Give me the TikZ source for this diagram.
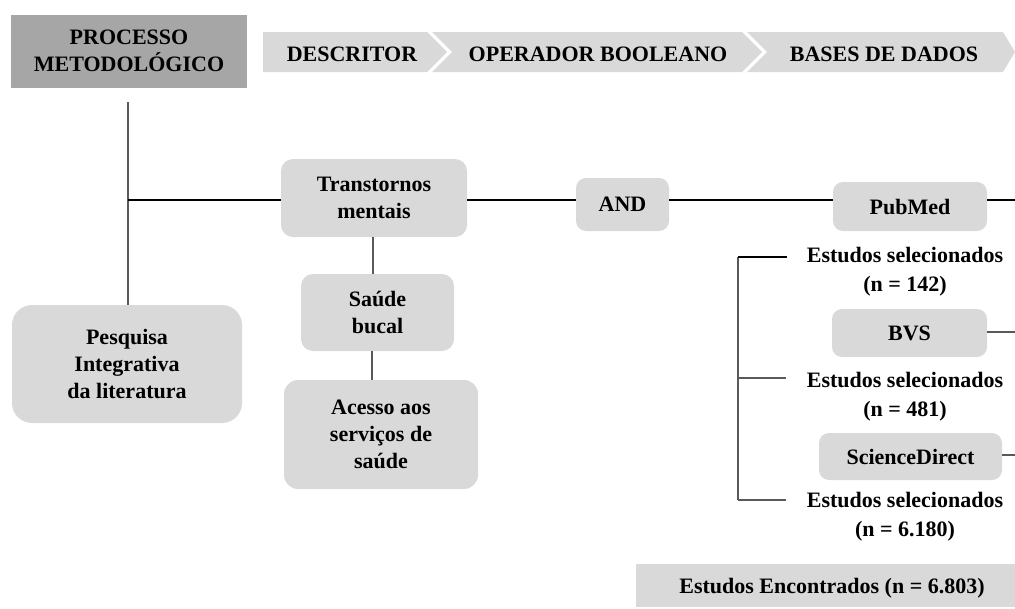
\documentclass[tikz,border=0pt]{standalone}
\usepackage{fontspec}
\setmainfont{Liberation Serif}
\begin{document}
\begin{tikzpicture}[x=1pt,y=-1pt,
  every node/.style={font=\fontsize{22}{27}\selectfont\bfseries, align=center, inner sep=0pt},
  darkbox/.style={fill=boxdark, draw=none},
  lightbox/.style={fill=boxlight, draw=none, rounded corners=12pt},
  chev/.style={fill=boxlight, draw=none},
  thick line/.style={line width=2.2pt, black},
  thin line/.style={line width=1.1pt, linegray},
  txt/.style={font=\fontsize{22}{29}\selectfont\bfseries}
]
\definecolor{boxdark}{HTML}{A6A6A6}
\definecolor{boxlight}{HTML}{D9D9D9}
\definecolor{linegray}{HTML}{595959}
\useasboundingbox (0,0) rectangle (1015,608);

% header
\fill[boxdark] (11,15) rectangle (247,88);
\node (proc) at (129,51) {PROCESSO\\METODOLÓGICO};
\fill[chev] (263,32) -- (427,32) -- (447,52) -- (427,72) -- (263,72) -- cycle;
\fill[chev] (432,32) -- (742,32) -- (762,52) -- (742,72) -- (432,72) -- (452,52) -- cycle;
\fill[chev] (747,32) -- (1003,32) -- (1015,52) -- (1003,72) -- (747,72) -- (767,52) -- cycle;
\node (desc) at (352,54) {DESCRITOR};
\node (oper) at (598,54) {OPERADOR BOOLEANO};
\node (bases) at (884,54) {BASES DE DADOS};

% boxes
\fill[boxlight, rounded corners=20pt] (12,305) rectangle (242,423);
\node (pesq) at (127,364) {Pesquisa\\Integrativa\\da literatura};
\fill[boxlight, rounded corners=12pt] (281,159) rectangle (467,237);
\node (trans) at (374,198) {Transtornos\\mentais};
\fill[boxlight, rounded corners=12pt] (301,274) rectangle (454,351);
\node (saude) at (377.5,312.5) {Saúde\\bucal};
\fill[boxlight, rounded corners=14pt] (284,380) rectangle (478,489);
\node (acesso) at (381,434.5) {Acesso aos\\serviços de\\saúde};
\fill[boxlight, rounded corners=10pt] (576,178) rectangle (669,231);
\node (and) at (622.5,204.5) {AND};
\fill[boxlight, rounded corners=10pt] (833,182) rectangle (987,231);
\node (pub) at (910,206.5) {PubMed};
\fill[boxlight, rounded corners=10pt] (832,309) rectangle (987,357);
\node (bvs) at (909.5,333) {BVS};
\fill[boxlight, rounded corners=10pt] (819,433) rectangle (1002,480);
\node (sd) at (910.5,456.5) {ScienceDirect};
\node[txt] (e1) at (905,272) {Estudos selecionados\\(n = 142)};
\node[txt] (e2) at (905,397) {Estudos selecionados\\(n = 481)};
\node[txt] (e3) at (905,517) {Estudos selecionados\\(n = 6.180)};
\fill[boxlight] (636,564) rectangle (1015,607);
\node (found) at (832,588) {Estudos Encontrados (n = 6.803)};

% connector anchors
\coordinate (v0) at (128,102);
\coordinate (v1) at (128,305);
\coordinate (j1) at (128,200);
\coordinate (tl) at (281,200);
\coordinate (tr) at (467,200);
\coordinate (al) at (576,200);
\coordinate (ar) at (669,200);
\coordinate (pl) at (833,200);
\coordinate (pr) at (987,200);
\coordinate (edge1) at (1015,200);
\coordinate (ts) at (373,237);
\coordinate (sn) at (373,274);
\coordinate (ss) at (372,351);
\coordinate (an) at (372,380);
\coordinate (br) at (987,332);
\coordinate (edge2) at (1015,332);
\coordinate (sr) at (1002,455);
\coordinate (edge3) at (1015,455);
\coordinate (b1) at (738,257);
\coordinate (b2) at (738,378);
\coordinate (b3) at (738,500);
\coordinate (t1) at (787,257);
\coordinate (t2) at (786,378);
\coordinate (t3) at (786,500);

% connectors
\draw[thin line] (v0) -- (v1);
\draw[thick line] (j1) -- (tl);
\draw[thick line] (tr) -- (al);
\draw[thick line] (ar) -- (pl);
\draw[thick line] (pr) -- (edge1);
\draw[thin line] (ts) -- (sn);
\draw[thin line] (ss) -- (an);
\draw[thin line] (br) -- (edge2);
\draw[thin line] (sr) -- (edge3);
\draw[thin line] (b1) -- (b3);
\draw[thick line, line width=1.8pt] (b1) -- (t1);
\draw[thin line] (b2) -- (t2);
\draw[thin line] (b3) -- (t3);
\end{tikzpicture}
\end{document}
